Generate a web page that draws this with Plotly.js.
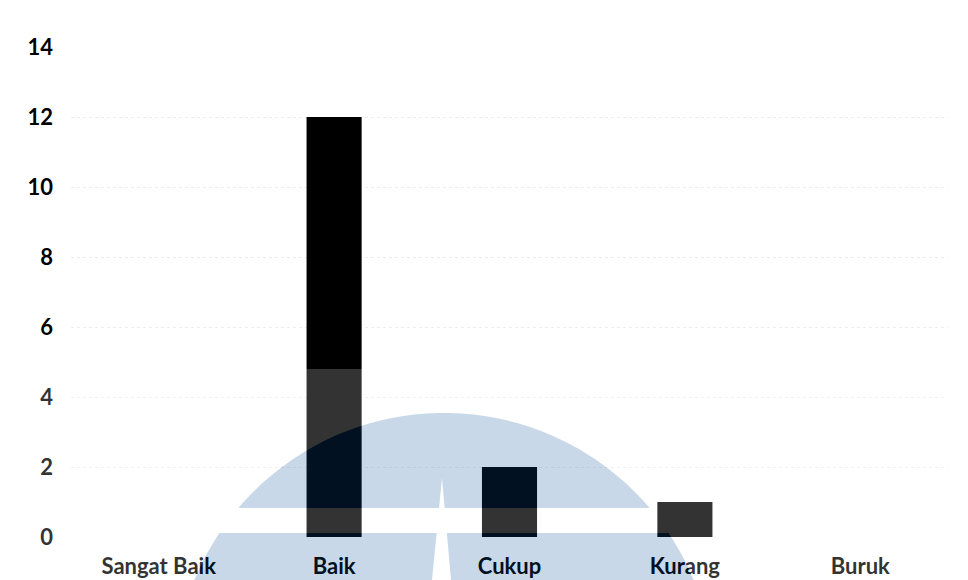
<!DOCTYPE html>
<html>
<head>
<meta charset="utf-8">
<script src="https://cdn.plot.ly/plotly-3.0.1.min.js"></script>
<style>html,body{margin:0;padding:0;background:#fff;}#chart{width:968px;height:580px;}</style>
</head>
<body>
<div id="chart"></div>
<script>
// ---- data ----
const categories = ['Sangat Baik', 'Baik', 'Cukup', 'Kurang', 'Buruk'];
const counts = [0, 12, 2, 1, 0];
const yTickValues = [0, 2, 4, 6, 8, 10, 12, 14];
const yTickLabels = ['0', '2', '4', '6', '8', '10', '12', '14'];

// ---- layout constants ----
const W = 968, H = 580;
const M = {l: 71, r: 20, t: 47, b: 43};
const PW = W - M.l - M.r, PH = H - M.t - M.b;
const fx = px => ((px - M.l) / PW).toFixed(5);
const fy = py => ((H - M.b - py) / PH).toFixed(5);
const pt = (px, py) => fx(px) + ',' + fy(py);

// ---- watermark (decoration) ----
const cx = 444, cy = 683, R = 270;
const arcPts = (t1, t2, n) => {
  const out = [];
  for (let i = 0; i <= n; i++) {
    const t = t1 + (t2 - t1) * i / n;
    out.push([cx + R * Math.sin(t), cy - R * Math.cos(t)]);
  }
  return out;
};
const poly = pts => 'M' + pts.map(p => pt(p[0], p[1])).join(' L') + ' Z';
const yBandTop = 508, yBandBot = 533, yEnd = 600;
const th = y => Math.acos((cy - y) / R);
const t0 = th(yBandTop), ta = th(yBandBot), tb = th(yEnd);
const wx = (y, side) => side < 0 ? 442 - 10 * (y - 478) / 102 : 442 + 9 * (y - 478) / 102;

const capPath = poly(arcPts(-t0, t0, 80)) + ' ' +
  poly([[442, 478], [wx(yBandTop, -1), yBandTop], [wx(yBandTop, 1), yBandTop]]);
const lowPath = poly(arcPts(-ta, -tb, 30).concat(arcPts(tb, ta, 30))) + ' ' +
  poly([[wx(yBandBot, -1), yBandBot], [wx(yEnd, -1), yEnd], [wx(yEnd, 1), yEnd], [wx(yBandBot, 1), yBandBot]]);
const veilPath = poly([[0, 369], [W, 369], [W, yEnd], [0, yEnd]]) + ' ' + poly(arcPts(-Math.PI, Math.PI, 240));
const bandPath = poly(arcPts(-t0, -ta, 20).concat(arcPts(ta, t0, 20)));

const blue = 'rgb(5,77,150)';
const shapes = [
  {type: 'path', xref: 'paper', yref: 'paper', path: veilPath, fillrule: 'evenodd', fillcolor: '#ffffff', opacity: 0.2, line: {width: 0}, layer: 'above'},
  {type: 'path', xref: 'paper', yref: 'paper', path: bandPath, fillcolor: '#ffffff', opacity: 0.2, line: {width: 0}, layer: 'above'},
  {type: 'path', xref: 'paper', yref: 'paper', path: capPath, fillrule: 'evenodd', fillcolor: blue, opacity: 0.22, line: {width: 0}, layer: 'above'},
  {type: 'path', xref: 'paper', yref: 'paper', path: lowPath, fillrule: 'evenodd', fillcolor: blue, opacity: 0.22, line: {width: 0}, layer: 'above'}
];

const font = {family: 'Lato, "Open Sans", sans-serif', size: 22, color: '#000', weight: 'bold'};

Plotly.newPlot('chart', [{
  type: 'bar',
  x: categories,
  y: counts,
  marker: {color: '#000000', line: {width: 0}},
  hoverinfo: 'x+y'
}], {
  width: W, height: H,
  margin: M,
  paper_bgcolor: '#ffffff',
  plot_bgcolor: '#ffffff',
  bargap: 0.686,
  showlegend: false,
  font: font,
  xaxis: {
    type: 'category',
    showgrid: false, zeroline: false, showline: false,
    ticks: '', tickfont: font, ticklabelstandoff: 14
  },
  yaxis: {
    range: [0, 14],
    tickvals: yTickValues, ticktext: yTickLabels,
    showgrid: true, gridcolor: '#ededed', griddash: 'dot', gridwidth: 1,
    zeroline: false, showline: false,
    ticks: '', tickfont: font, ticklabelstandoff: 17
  },
  shapes: shapes
}, {displayModeBar: false, staticPlot: true});
</script>
</body>
</html>
